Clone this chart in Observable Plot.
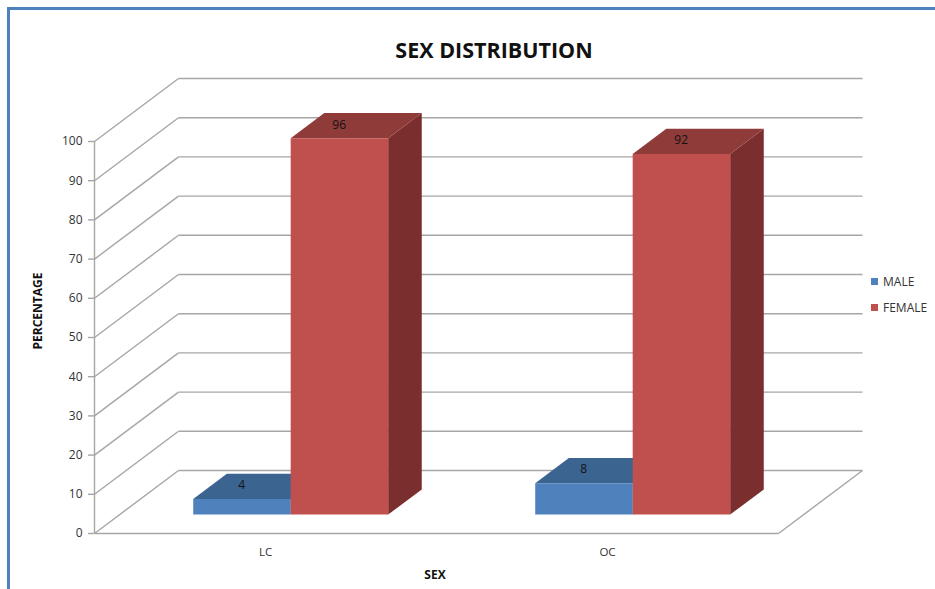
<!DOCTYPE html>
<html>
<head>
<meta charset="utf-8">
<script src="https://cdn.jsdelivr.net/npm/d3@7"></script>
<script src="https://cdn.jsdelivr.net/npm/@observablehq/plot@0.6"></script>
<style>
  body { margin: 0; background: #fff; }
  #chart { position: relative; width: 935px; height: 589px; overflow: hidden; background: #fff; font-family: "Open Sans", sans-serif; }
  #border { position: absolute; left: 7px; top: 7px; right: -20px; bottom: -20px; border-left: 3px solid #4f81bd; border-top: 3px solid #4f81bd; }
  .lbl { position: absolute; transform: translate(-50%, -50%); line-height: 1; white-space: nowrap; color: #111; }
  #title { left: 494px; top: 50px; font-size: 21.5px; font-weight: 700; }
  #ytitle { left: 38px; top: 311px; font-size: 12px; font-weight: 700; transform: translate(-50%, -50%) rotate(-90deg); }
  #xtitle { left: 435px; top: 575px; font-size: 12px; font-weight: 700; }
  #legend { position: absolute; left: 871px; top: 273px; font-size: 12px; color: #333; }
  .item { display: flex; align-items: center; height: 16px; margin-bottom: 10px; }
  .sw { width: 7px; height: 7px; margin-right: 5px; }
  #plot { position: absolute; left: 0; top: 0; }
</style>
</head>
<body>
<div id="chart">
  <div id="border"></div>
  <div id="plot"></div>
  <div id="title" class="lbl">SEX DISTRIBUTION</div>
  <div id="ytitle" class="lbl">PERCENTAGE</div>
  <div id="xtitle" class="lbl">SEX</div>
  <div id="legend"></div>
</div>
<script>
// Sex distribution by group, in percent
const categories = ["LC", "OC"];
const series = ["MALE", "FEMALE"];
const male = [4, 8];
const female = [96, 92];
const yTicks = [0, 10, 20, 30, 40, 50, 60, 70, 80, 90, 100];

const values = [male, female];

// Face colours for each series: front, top, side
const palette = {
  MALE:   {front: "#4f81bd", top: "#3c6491", side: "#2f4f75"},
  FEMALE: {front: "#c0504d", top: "#8f3b39", side: "#7a2f2e"}
};

// Oblique 3-D projection: depth 0 is the front plane, depth 1 the back wall.
// The offset of the back wall is given in data units (categories, percent).
const DEPTH = {x: 0.2456, y: 16.07};
const proj = (x, v, d) => ({x: x + d * DEPTH.x, y: v + d * DEPTH.y});

// Bars fill part of each category and sit in the middle of the depth
const BAR_W = 0.285;
const D0 = 0.3, D1 = 0.7;

const bars = categories.flatMap((cat, i) =>
  series.map((s, j) => ({
    cat, series: s, value: values[j][i],
    x0: i + 0.5 + (j - 1) * BAR_W,
    x1: i + 0.5 + j * BAR_W
  }))
);

// Polygons for every face, in painter's order: sides, tops, fronts
const faces = [];
function addFace(key, color, pts) {
  pts.forEach(p => faces.push({key, color, x: p.x, y: p.y}));
}
bars.forEach((b, k) => {
  addFace("side" + k, palette[b.series].side, [
    proj(b.x1, 0, D0), proj(b.x1, 0, D1), proj(b.x1, b.value, D1), proj(b.x1, b.value, D0)
  ]);
});
bars.forEach((b, k) => {
  addFace("top" + k, palette[b.series].top, [
    proj(b.x0, b.value, D0), proj(b.x1, b.value, D0), proj(b.x1, b.value, D1), proj(b.x0, b.value, D1)
  ]);
});
bars.forEach((b, k) => {
  addFace("front" + k, palette[b.series].front, [
    proj(b.x0, 0, D0), proj(b.x1, 0, D0), proj(b.x1, b.value, D0), proj(b.x0, b.value, D0)
  ]);
});

const n = categories.length;
// Back wall gridlines and their diagonals on the left wall
const backGrid = yTicks.map(t => ({a: proj(0, t, 1), b: proj(n, t, 1)}));
const sideGrid = yTicks.map(t => ({a: proj(0, t, 0), b: proj(0, t, 1)}));
// Floor: front edge and right edge
const floorEdges = [
  {a: proj(0, 0, 0), b: proj(n, 0, 0)},
  {a: proj(n, 0, 0), b: proj(n, 0, 1)}
];
const edgeOpts = {
  x1: d => d.a.x, y1: d => d.a.y, x2: d => d.b.x, y2: d => d.b.y,
  stroke: "#a6a6a6", strokeWidth: 1.4
};

const chart = Plot.plot({
  width: 935,
  height: 589,
  marginLeft: 94,
  marginRight: 157,
  marginTop: 141,
  marginBottom: 56,
  style: {overflow: "visible", background: "transparent", fontFamily: "'Open Sans', sans-serif", color: "#333"},
  x: {domain: [0, n], axis: null},
  y: {domain: [0, 100], axis: null},
  marks: [
    Plot.link(backGrid, edgeOpts),
    Plot.link(sideGrid, edgeOpts),
    Plot.link(floorEdges, edgeOpts),
    Plot.ruleX([0], {y1: 0, y2: 100, stroke: "#a6a6a6", strokeWidth: 1.4}),
    Plot.axisY({ticks: yTicks, label: null, tickSize: 6, tickPadding: 6, fontSize: 12, stroke: "#a6a6a6", strokeWidth: 1.4}),
    Plot.line(faces, {x: "x", y: "y", z: "key", fill: "color", stroke: "none", curve: "linear-closed"}),
    Plot.text(bars, {
      x: d => proj((d.x0 + d.x1) / 2, d.value, 0.5).x,
      y: d => proj((d.x0 + d.x1) / 2, d.value, 0.5).y,
      text: d => String(d.value),
      dx: -17, dy: -1, fontSize: 12, fill: "#111"
    }),
    Plot.text(categories, {x: (d, i) => i + 0.5, y: 0, text: d => d, dy: 19, fontSize: 11.5, fill: "#333"})
  ]
});
document.getElementById("plot").appendChild(chart);

// Legend
const legend = d3.select("#legend");
series.forEach(s => {
  const item = legend.append("div").attr("class", "item");
  item.append("div").attr("class", "sw").style("background", palette[s].front);
  item.append("span").text(s);
});
</script>
</body>
</html>
